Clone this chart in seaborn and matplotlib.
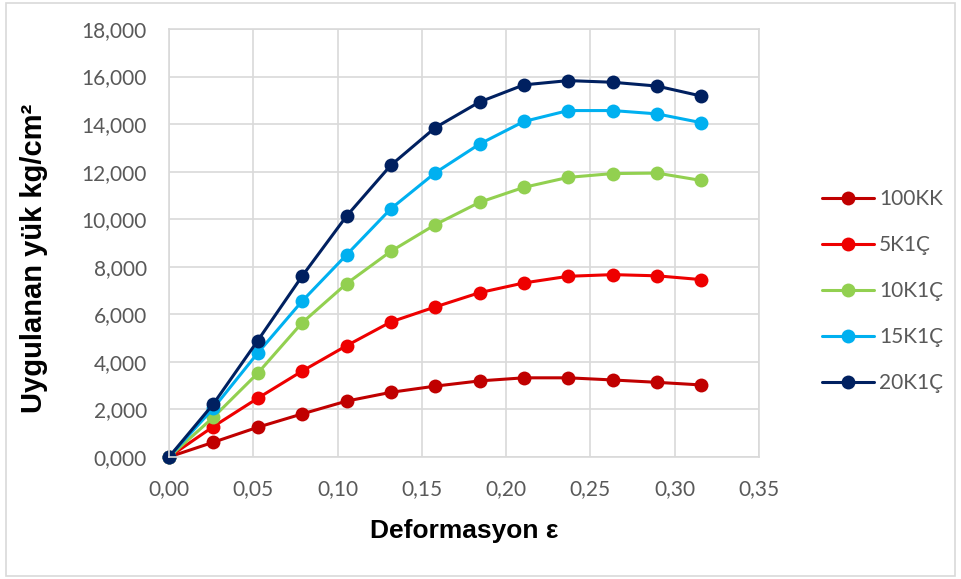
import matplotlib
matplotlib.use("Agg")
import matplotlib.pyplot as plt
import numpy as np
import pandas as pd
import seaborn as sns
from matplotlib.patches import Rectangle
from matplotlib.ticker import FuncFormatter, MultipleLocator

# deformation (strain) values shared by all series
strain = [0.0, 0.0263, 0.0526, 0.0789, 0.1053, 0.1316, 0.1579,
          0.1842, 0.2105, 0.2368, 0.2632, 0.2895, 0.3158]

load_100kk = [0, 0.62, 1.25, 1.81, 2.35, 2.72, 2.98, 3.20, 3.33, 3.33, 3.24, 3.14, 3.03]
load_5k1c = [0, 1.28, 2.47, 3.61, 4.68, 5.68, 6.31, 6.91, 7.32, 7.60, 7.67, 7.62, 7.46]
load_10k1c = [0, 1.67, 3.52, 5.64, 7.29, 8.65, 9.77, 10.71, 11.34, 11.76, 11.92, 11.94, 11.63]
load_15k1c = [0, 2.05, 4.37, 6.55, 8.50, 10.44, 11.95, 13.16, 14.11, 14.57, 14.57, 14.43, 14.06]
load_20k1c = [0, 2.23, 4.89, 7.60, 10.13, 12.27, 13.85, 14.93, 15.65, 15.83, 15.76, 15.60, 15.18]

series_names = ["100KK", "5K1Ç", "10K1Ç", "15K1Ç", "20K1Ç"]
series_loads = [load_100kk, load_5k1c, load_10k1c, load_15k1c, load_20k1c]
colors = ["#C00000", "#EE0000", "#92D050", "#00B0F0", "#002060"]


def build_frame() -> pd.DataFrame:
    parts = []
    for name, vals in zip(series_names, series_loads):
        parts.append(pd.DataFrame({"strain": strain, "load": vals, "series": name}))
    return pd.concat(parts, ignore_index=True)


def main() -> None:
    sns.set_theme(style="white")
    plt.rcParams["font.family"] = ["Lato", "DejaVu Sans"]
    grey = "#595959"
    grid_col = "#D9D9D9"
    bold_font = ["Liberation Sans", "DejaVu Sans"]

    df = build_frame()

    fig = plt.figure(figsize=(9.61, 5.79), dpi=100)
    ax = fig.add_axes([169 / 961, 1 - 457 / 579, (759 - 169) / 961, (457 - 29) / 579])

    sns.lineplot(
        data=df, x="strain", y="load", hue="series",
        hue_order=series_names, palette=colors,
        marker="o", markersize=10, markeredgewidth=0,
        linewidth=2.2, sort=False, ax=ax,
    )
    for line in ax.lines:
        line.set_clip_on(False)

    ax.set_xlim(0, 0.35)
    ax.set_ylim(0, 18)
    ax.xaxis.set_major_locator(MultipleLocator(0.05))
    ax.yaxis.set_major_locator(MultipleLocator(2))
    ax.xaxis.set_major_formatter(FuncFormatter(lambda v, p: f"{v:.2f}".replace(".", ",")))
    ax.yaxis.set_major_formatter(FuncFormatter(lambda v, p: f"{v:.3f}".replace(".", ",")))
    ax.tick_params(axis="both", length=0, pad=16, labelsize=15, labelcolor=grey)

    ax.grid(True, color=grid_col, linewidth=1.2)
    ax.set_axisbelow(True)
    for sp in ax.spines.values():
        sp.set_color(grid_col)
        sp.set_linewidth(1.2)

    ax.set_xlabel("Deformasyon ε", fontsize=19, fontweight="bold",
                  family=bold_font, color="black", labelpad=14)
    ax.set_ylabel("Uygulanan yük kg/cm²", fontsize=21, fontweight="bold",
                  family=bold_font, color="black")
    ax.yaxis.set_label_coords(-0.205, 0.465)

    handles, labels = ax.get_legend_handles_labels()
    ax.legend_.remove()
    fig.legend(
        handles, labels, loc="center left", bbox_to_anchor=(822 / 961, 1 - 291 / 579),
        frameon=False, fontsize=15, labelcolor=grey, handlelength=2.5,
        handletextpad=0.25, labelspacing=1.25, borderpad=0, borderaxespad=0,
    )

    fig.patches.append(Rectangle((0.006, 0.006), 0.988, 0.988, transform=fig.transFigure,
                                 fill=False, edgecolor=grid_col, linewidth=1.2))

    fig.savefig("out.png", dpi=100)
    plt.close(fig)


if __name__ == "__main__":
    main()
